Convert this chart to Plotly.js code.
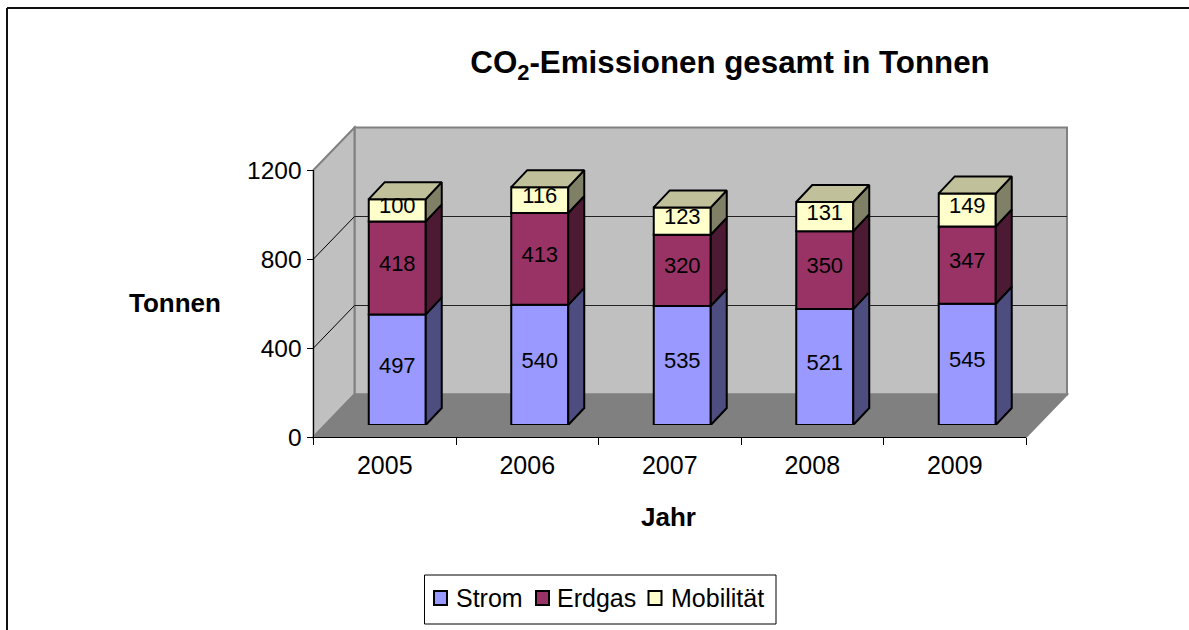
<!DOCTYPE html>
<html>
<head>
<meta charset="utf-8">
<script src="https://cdn.plot.ly/plotly-3.0.1.min.js"></script>
<style>html,body{margin:0;padding:0;background:#fff}#c{width:1189px;height:630px}</style>
</head>
<body>
<div id="c"></div>
<script>
const years = ['2005','2006','2007','2008','2009'];
const strom = [497,540,535,521,545];
const erdgas = [418,413,320,350,347];
const mobilitaet = [100,116,123,131,149];
const seriesNames = ['Strom','Erdgas','Mobilität'];
const frontColors = ['#9999FF','#993366','#FFFFCC'];
const sideColors = ['#4D4D80','#4D1A33','#808066'];
const topColor = '#C0C09A';
const yTicks = [0,400,800,1200];

const W = 1189, H = 630;
const fx = px => px / W, fy = py => 1 - py / H;
// geometry of the pseudo-3D box, in pixels
const L = 313.5, R = 1026, T = 170, B = 437;
const DX = 41, DY = 42.5;       // depth of the box
const SX = 12.5, SY = 12;       // bar front offset from box front
const BX = 16, BY = 17;         // depth of a bar
const barW = 0.40;
const unitX = (R - L) / years.length, unitY = (B - T) / 1200;

const all = [strom, erdgas, mobilitaet];
const idx = years.map((_, i) => i);
const bases = all.map((s, k) => s.map((_, i) => all.slice(0, k).reduce((a, c) => a + c[i], 0)));

const traces = [];
// carrier so the main axes (ticks) exist
traces.push({type:'scatter', x:years, y:years.map(()=>0), xaxis:'x', yaxis:'y', mode:'none', showlegend:false, hoverinfo:'skip'});
all.forEach((s, k) => {
  traces.push({type:'bar', name:seriesNames[k], x:idx, y:s, base:bases[k], width:barW, showlegend:false,
    xaxis:'x2', yaxis:'y2', marker:{color:frontColors[k], line:{color:'#000', width:2}}, hoverinfo:'name+y'});
});
const dxU = BX / unitX, dyU = BY / unitY;
all.forEach((s, k) => {
  const xs = [], ys = [];
  s.forEach((v, i) => {
    const r = i + barW / 2, b = bases[k][i], t = b + v;
    xs.push(r, r + dxU, r + dxU, r, r, null);
    ys.push(b, b + dyU, t + dyU, t, b, null);
  });
  traces.push({type:'scatter', x:xs, y:ys, xaxis:'x2', yaxis:'y2', mode:'lines', fill:'toself',
    fillcolor:sideColors[k], line:{color:'#000', width:2}, showlegend:false, hoverinfo:'skip', cliponaxis:false});
});
// top faces
{
  const xs = [], ys = [];
  idx.forEach(i => {
    const l = i - barW / 2, r = i + barW / 2, t = bases[2][i] + mobilitaet[i];
    xs.push(l, r, r + dxU, l + dxU, l, null);
    ys.push(t, t, t + dyU, t + dyU, t, null);
  });
  traces.push({type:'scatter', x:xs, y:ys, xaxis:'x2', yaxis:'y2', mode:'lines', fill:'toself',
    fillcolor:topColor, line:{color:'#000', width:2}, showlegend:false, hoverinfo:'skip', cliponaxis:false});
}
// data labels
all.forEach((s, k) => {
  traces.push({type:'scatter', x:idx, y:s.map((v, i) => bases[k][i] + v / 2 + 2.5 / unitY), text:s.map(String),
    xaxis:'x2', yaxis:'y2', mode:'text', textposition:'middle center', cliponaxis:false,
    textfont:{family:'Liberation Sans', size:22, color:'#000'}, showlegend:false, hoverinfo:'skip'});
});

const poly = pts => 'M' + pts.map(p => fx(p[0]) + ',' + fy(p[1])).join('L') + 'Z';
const seg = (x0, y0, x1, y1, color, width) => ({type:'line', xref:'paper', yref:'paper', layer:'below',
  x0:fx(x0), y0:fy(y0), x1:fx(x1), y1:fy(y1), line:{color:color, width:width}});
const face = (pts, fill, lineColor, lw) => ({type:'path', xref:'paper', yref:'paper', layer:'below', path:poly(pts),
  fillcolor:fill, line:{color:lineColor, width:lw === undefined ? 2 : lw}});

const shapes = [
  face([[L+DX,T-DY],[R+DX,T-DY],[R+DX,B-DY],[L+DX,B-DY]], '#C0C0C0', '#808080'),
  face([[L,T],[L+DX,T-DY],[L+DX,B-DY],[L,B]], '#C0C0C0', '#808080'),
  face([[L,B],[L+DX,B-DY],[R+DX,B-DY],[R,B]], '#808080', '#808080'),
];
yTicks.filter(v => v > 0 && v < 1200).forEach(v => {
  const y = B - v * unitY;
  shapes.push(seg(L, y, L + DX, y - DY, '#000', 1));
  shapes.push(seg(L + DX, y - DY, R + DX, y - DY, '#222', 1));
});
// outer frame (open on the right and at the bottom, as in the picture)
shapes.push(seg(7, 8, W, 8, '#111', 2), seg(7, 8, 7, H, '#111', 2));

// legend box, swatches and labels
const legendSwatchX = [434, 536, 648.5];
const legendTextX = [456.5, 558, 671.5];
const legendMidY = 598;
shapes.push({type:'rect', xref:'paper', yref:'paper', layer:'above', x0:fx(424.5), x1:fx(776), y0:fy(624), y1:fy(575),
  fillcolor:'#fff', line:{color:'#000', width:1}});
const annotations = [
  {text:'<b>Tonnen</b>', xref:'paper', yref:'paper', x:fx(175), y:fy(303), xanchor:'center', yanchor:'middle', showarrow:false, font:{size:26}},
  {text:'<b>Jahr</b>', xref:'paper', yref:'paper', x:fx(668), y:fy(517), xanchor:'center', yanchor:'middle', showarrow:false, font:{size:26}},
];
seriesNames.forEach((n, k) => {
  shapes.push({type:'rect', xref:'paper', yref:'paper', layer:'above', x0:fx(legendSwatchX[k]), x1:fx(legendSwatchX[k]+13),
    y0:fy(legendMidY+7), y1:fy(legendMidY-7), fillcolor:frontColors[k], line:{color:'#000', width:2}});
  annotations.push({text:n, xref:'paper', yref:'paper', x:fx(legendTextX[k]), y:fy(legendMidY), xanchor:'left', yanchor:'middle',
    xshift:-3, showarrow:false, font:{size:25}});
});

const layout = {
  width:W, height:H, margin:{l:0,r:0,t:0,b:0}, paper_bgcolor:'#fff', plot_bgcolor:'rgba(0,0,0,0)',
  showlegend:false,
  font:{family:'Liberation Sans', size:25, color:'#000'},
  title:{text:'<b>CO<sub>2</sub>-Emissionen gesamt in Tonnen</b>', x:fx(730), xanchor:'center', y:fy(62), yanchor:'middle',
    font:{family:'Liberation Sans', size:31.3, color:'#000'}},
  barmode:'overlay', hovermode:false,
  xaxis:{type:'category', range:[-0.5,4.5], domain:[fx(L),fx(R)], anchor:'y', tickson:'boundaries', ticks:'outside', ticklen:7, tickcolor:'#000', tickwidth:1,
    showline:true, linecolor:'#000', linewidth:1, showgrid:false, zeroline:false, ticklabelstandoff:6, tickfont:{size:25}, automargin:false, fixedrange:true},
  yaxis:{range:[0,1200], domain:[fy(B),fy(T)], anchor:'x', tickvals:yTicks, ticks:'outside', ticklen:6, tickcolor:'#000', tickwidth:1,
    showline:true, linecolor:'#000', linewidth:1, showgrid:false, zeroline:false, tickfont:{size:24.5}, automargin:false, fixedrange:true},
  xaxis2:{range:[-0.5,4.5], domain:[fx(L+SX),fx(R+SX)], anchor:'y2', visible:false, fixedrange:true},
  yaxis2:{range:[0,1200], domain:[fy(B-SY),fy(T-SY)], anchor:'x2', visible:false, fixedrange:true},
  shapes:shapes,
  annotations:annotations,
};
Plotly.newPlot('c', traces, layout, {displayModeBar:false, staticPlot:true});
</script>
</body>
</html>
